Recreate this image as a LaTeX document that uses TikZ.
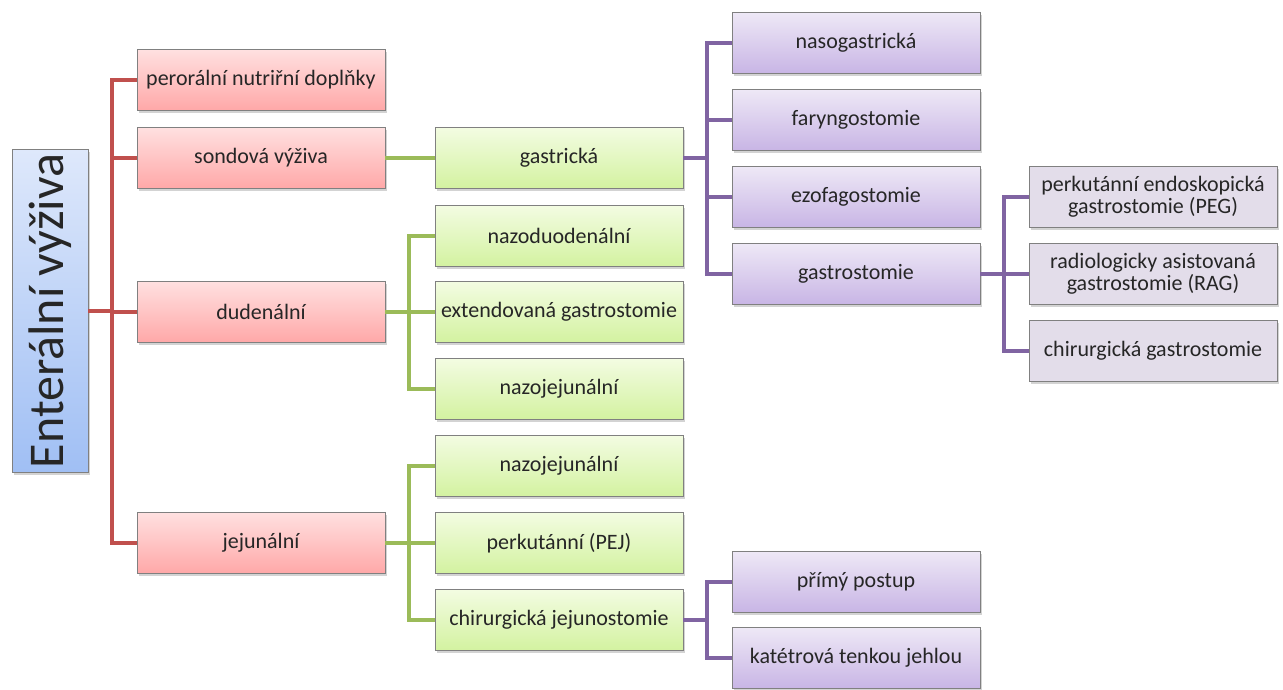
\documentclass[tikz,border=0pt]{standalone}
\usepackage{fontspec}
\setmainfont{Carlito}
\usetikzlibrary{shadows}
\definecolor{redln}{HTML}{C0504D}
\definecolor{greenln}{HTML}{9BBB59}
\definecolor{purpleln}{HTML}{8064A2}
\definecolor{txt}{HTML}{262626}
\definecolor{redtop}{HTML}{FFE0E0}
\definecolor{redbot}{HTML}{FFA8A8}
\definecolor{greentop}{HTML}{F3FCE2}
\definecolor{greenbot}{HTML}{D3F2A0}
\definecolor{purpletop}{HTML}{EEE8F6}
\definecolor{purplebot}{HTML}{C8B5E5}
\definecolor{greyfill}{HTML}{E3DDEA}
\definecolor{bluetop}{HTML}{DEE8FB}
\definecolor{bluebot}{HTML}{A0BFF4}
\tikzset{
  box/.style={draw=black!50, line width=0.8pt, minimum width=248, minimum height=61,
    inner sep=2pt, align=center, text=txt, font=\fontsize{22}{25}\selectfont,
    drop shadow={opacity=0.35, shadow xshift=2pt, shadow yshift=-2pt}},
  redbox/.style={box, top color=redtop, bottom color=redbot},
  greenbox/.style={box, top color=greentop, bottom color=greenbot},
  purplebox/.style={box, top color=purpletop, bottom color=purplebot},
  greybox/.style={box, fill=greyfill},
  redline/.style={draw=redln, line width=4pt},
  greenline/.style={draw=greenln, line width=4pt},
  purpleline/.style={draw=purpleln, line width=4pt}
}
\begin{document}
\begin{tikzpicture}[x=1pt,y=-1pt]
  \useasboundingbox (0,0) rectangle (1283,689);
  % root
  \node[draw=black!50, line width=0.8pt, minimum width=76, minimum height=323, inner sep=0pt,
    top color=bluetop, bottom color=bluebot, text=txt,
    drop shadow={opacity=0.35, shadow xshift=2pt, shadow yshift=-2pt}]
    (root) at (50,311) {\rotatebox{90}{\fontsize{50}{56}\selectfont Enterální výživa}};
  % level 1
  \node[redbox] (per) at (261,80)  {perorální nutriřní doplňky};
  \node[redbox] (son) at (261,158) {sondová výživa};
  \node[redbox] (dud) at (261,312) {dudenální};
  \node[redbox] (jej) at (261,543) {jejunální};
  % level 2
  \node[greenbox] (gas)  at (559,158) {gastrická};
  \node[greenbox] (nduo) at (559,236) {nazoduodenální};
  \node[greenbox] (ext)  at (559,312) {extendovaná gastrostomie};
  \node[greenbox] (njeA) at (559,389) {nazojejunální};
  \node[greenbox] (njeB) at (559,466) {nazojejunální};
  \node[greenbox] (pej)  at (559,543) {perkutánní (PEJ)};
  \node[greenbox] (chj)  at (559,620) {chirurgická jejunostomie};
  % level 3
  \node[purplebox] (nas) at (856,43)  {nasogastrická};
  \node[purplebox] (far) at (856,120) {faryngostomie};
  \node[purplebox] (ezo) at (856,197) {ezofagostomie};
  \node[purplebox] (gst) at (856,274) {gastrostomie};
  \node[purplebox] (pri) at (856,582) {přímý postup};
  \node[purplebox] (kat) at (856,658) {katétrová tenkou jehlou};
  % level 4
  \node[greybox] (peg) at (1153,197) {perkutánní endoskopická\\[-3pt]gastrostomie (PEG)};
  \node[greybox] (rag) at (1153,274) {radiologicky asistovaná\\[-3pt]gastrostomie (RAG)};
  \node[greybox] (chg) at (1153,351) {chirurgická gastrostomie};
  % connectors
  \draw[redline] (root.east) -- (112,311) coordinate (tr);
  \foreach \n in {per,son,dud,jej}{\draw[redline] (tr) |- (\n.west);}
  \draw[greenline] (son.east) -- (gas.west);
  \draw[greenline] (dud.east) -- ++(24,0) coordinate (tg1);
  \foreach \n in {nduo,ext,njeA}{\draw[greenline] (tg1) |- (\n.west);}
  \draw[greenline] (jej.east) -- ++(24,0) coordinate (tg2);
  \foreach \n in {njeB,pej,chj}{\draw[greenline] (tg2) |- (\n.west);}
  \draw[purpleline] (gas.east) -- ++(24,0) coordinate (tp1);
  \foreach \n in {nas,far,ezo,gst}{\draw[purpleline] (tp1) |- (\n.west);}
  \draw[purpleline] (chj.east) -- ++(24,0) coordinate (tp2);
  \foreach \n in {pri,kat}{\draw[purpleline] (tp2) |- (\n.west);}
  \draw[purpleline] (gst.east) -- ++(24,0) coordinate (tp3);
  \foreach \n in {peg,rag,chg}{\draw[purpleline] (tp3) |- (\n.west);}
\end{tikzpicture}
\end{document}
